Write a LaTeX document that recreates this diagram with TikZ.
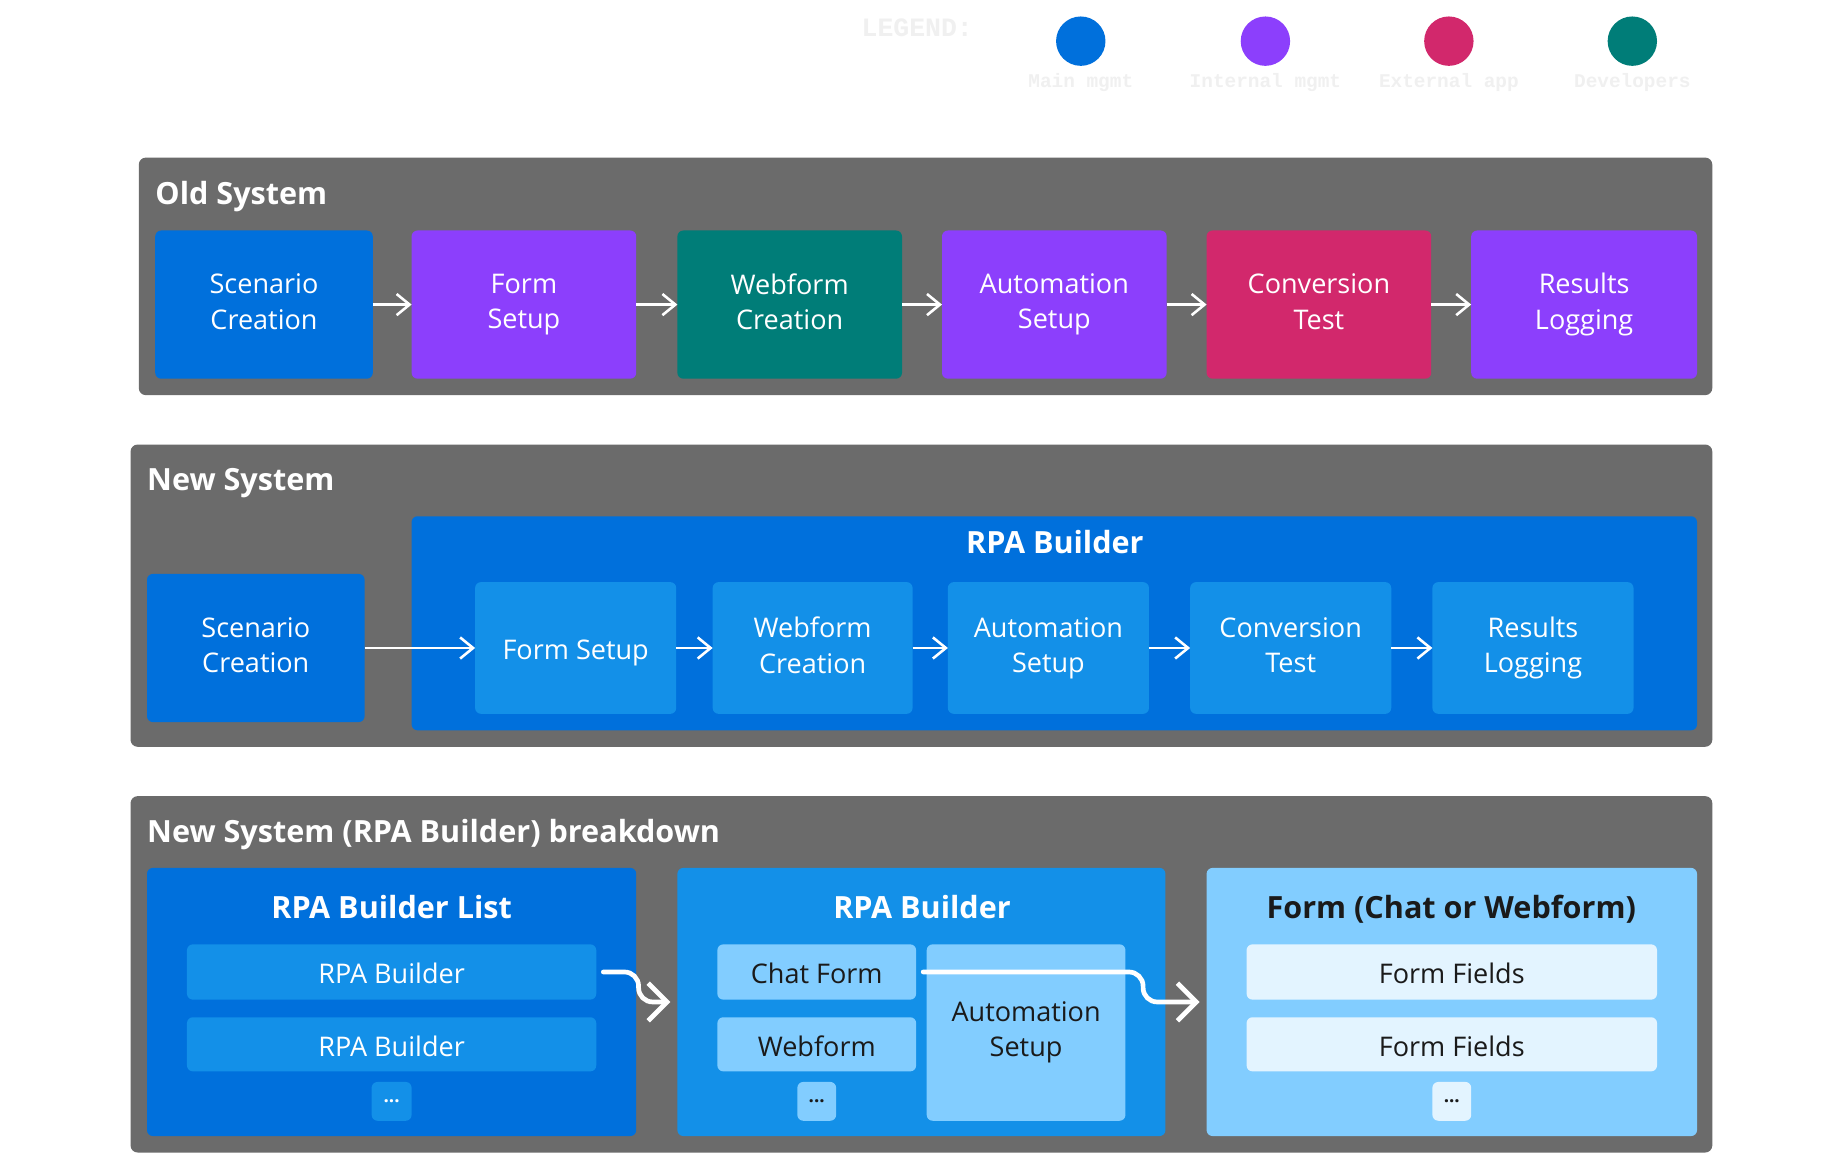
\documentclass[tikz,border=0pt]{standalone}
\usepackage{fontspec}
\setmainfont{Open Sans}
\newfontfamily\legendfont{Liberation Mono}
\usetikzlibrary{arrows.meta,calc}
\definecolor{panelgray}{HTML}{6B6B6B}
\definecolor{cblue}{HTML}{0070DC}
\definecolor{cpurple}{HTML}{8C3FFC}
\definecolor{cteal}{HTML}{007D78}
\definecolor{cmagenta}{HTML}{D2286C}
\definecolor{clight}{HTML}{1390E8}
\definecolor{clighter}{HTML}{82CDFF}
\definecolor{clightest}{HTML}{E3F4FF}
\definecolor{cdark}{HTML}{1A1A1A}
\definecolor{clegend}{HTML}{F0F0F0}
\newcommand\bxstrut{\rule[-5pt]{0pt}{30pt}}
\newcommand\twostrut{\rule[-1pt]{0pt}{30pt}}
\newcommand\rbox[7]{\node[#2, minimum width={(#5)-(#3)}, minimum height={(#6)-(#4)}] (#1) at ({((#3)+(#5))/2},{((#4)+(#6))/2}) {#7};}
\tikzset{
  panel/.style={fill=panelgray, rounded corners=6pt, inner sep=0pt, outer sep=0pt},
  box/.style={rounded corners=5pt, inner sep=0pt, outer sep=0pt, align=center, text=white, font=\fontsize{23}{30}\selectfont, execute at begin node=\bxstrut, execute at end node=\bxstrut},
  twoline/.style={execute at begin node=\twostrut, execute at end node=\twostrut},
  darkbox/.style={box, text=cdark},
  dots/.style={rounded corners=5pt, inner sep=0pt, outer sep=0pt, text=white, font=\bfseries\fontsize{16}{18}\selectfont},
  ptitle/.style={inner sep=0pt, anchor=base west, text=white, font=\bfseries\fontsize{26}{32}\selectfont},
  ctitle/.style={inner sep=0pt, anchor=base, text=white, font=\bfseries\fontsize{26}{32}\selectfont},
  thinarrow/.style={draw=white, line width=2.2pt, -{Straight Barb[length=11pt, width=18pt, line width=2.2pt]}},
  thickarrow/.style={draw=white, line width=4pt, line cap=round, rounded corners=12pt, -{Straight Barb[length=16pt, width=32pt, line width=4pt]}},
  legdot/.style={circle, minimum size=42pt, inner sep=0pt},
  leglabel/.style={inner sep=0pt, text=clegend, font=\legendfont\bfseries\fontsize{16.5}{18}\selectfont},
}
\begin{document}
\begin{tikzpicture}[x=1pt,y=-1pt]
\useasboundingbox[fill=white] (0,0) rectangle (1568,981);

% Legend
\node[inner sep=0pt, text=clegend, font=\legendfont\bfseries\fontsize{22.5}{24}\selectfont] (leg) at (780,24) {LEGEND:};
\node[legdot, fill=cblue] (l1) at (919,35) {};
\node[legdot, fill=cpurple] (l2) at (1076,35) {};
\node[legdot, fill=cmagenta] (l3) at (1232,35) {};
\node[legdot, fill=cteal] (l4) at (1388,35) {};
\node[leglabel] (l1t) at (919,70) {Main mgmt};
\node[leglabel] (l2t) at (1076,70) {Internal mgmt};
\node[leglabel] (l3t) at (1232,70) {External app};
\node[leglabel] (l4t) at (1388,70) {Developers};

% Panel 1: Old System
\rbox{p1}{panel}{118}{134}{1456}{336}{}
\node[ptitle] (p1t) at (132,174) {Old System};
\rbox{o1}{box, twoline, fill=cblue}{132}{196}{317}{322}{Scenario\\Creation}
\rbox{o2}{box, twoline, fill=cpurple}{350}{196}{541}{322}{Form\\Setup}
\rbox{o3}{box, twoline, fill=cteal}{576}{196}{767}{322}{Webform\\Creation}
\rbox{o4}{box, twoline, fill=cpurple}{801}{196}{992}{322}{Automation\\Setup}
\rbox{o5}{box, twoline, fill=cmagenta}{1026}{196}{1217}{322}{Conversion\\Test}
\rbox{o6}{box, twoline, fill=cpurple}{1251}{196}{1443}{322}{Results\\Logging}
\draw[thinarrow] (o1) -- (o2);
\draw[thinarrow] (o2) -- (o3);
\draw[thinarrow] (o3) -- (o4);
\draw[thinarrow] (o4) -- (o5);
\draw[thinarrow] (o5) -- (o6);

% Panel 2: New System
\rbox{p2}{panel}{111}{378}{1456}{635}{}
\node[ptitle] (p2t) at (125,417) {New System};
\rbox{n0}{box, twoline, fill=cblue}{125}{488}{310}{614}{Scenario\\Creation}
\rbox{rpa}{box, fill=cblue}{350}{439}{1443}{621}{}
\node[ctitle] (rpat) at (897,471) {RPA Builder};
\rbox{n1}{box, fill=clight}{404}{495}{575}{607}{Form Setup}
\rbox{n2}{box, twoline, fill=clight}{606}{495}{776}{607}{Webform\\Creation}
\rbox{n3}{box, twoline, fill=clight}{806}{495}{977}{607}{Automation\\Setup}
\rbox{n4}{box, twoline, fill=clight}{1012}{495}{1183}{607}{Conversion\\Test}
\rbox{n5}{box, twoline, fill=clight}{1218}{495}{1389}{607}{Results\\Logging}
\draw[thinarrow] (n0.east |- n1) -- (n1);
\draw[thinarrow] (n1) -- (n2);
\draw[thinarrow] (n2) -- (n3);
\draw[thinarrow] (n3) -- (n4);
\draw[thinarrow] (n4) -- (n5);

% Panel 3: breakdown
\rbox{p3}{panel}{111}{677}{1456}{980}{}
\node[ptitle] (p3t) at (125,716) {New System (RPA Builder) breakdown};
\rbox{ca}{box, fill=cblue}{125}{738}{541}{966}{}
\node[ctitle] (cat) at (333,781) {RPA Builder List};
\rbox{a1}{box, fill=clight}{159}{803}{507}{850}{RPA Builder}
\rbox{a2}{box, fill=clight}{159}{865}{507}{911}{RPA Builder}
\rbox{a3}{dots, fill=clight}{316}{920}{350}{953}{...}

\rbox{cb}{box, fill=clight}{576}{738}{991}{966}{}
\node[ctitle] (cbt) at (784,781) {RPA Builder};
\rbox{b1}{darkbox, fill=clighter}{610}{803}{779}{850}{Chat Form}
\rbox{b2}{darkbox, fill=clighter}{610}{865}{779}{911}{Webform}
\rbox{b3}{dots, text=cdark, fill=clighter}{678}{920}{711}{953}{...}
\rbox{b4}{darkbox, twoline, fill=clighter}{788}{803}{957}{953}{Automation\\Setup}

\rbox{cc}{box, fill=clighter}{1026}{738}{1443}{966}{}
\node[ctitle, text=cdark] (cct) at (1234,781) {Form (Chat or Webform)};
\rbox{c1}{darkbox, fill=clightest}{1060}{803}{1409}{850}{Form Fields}
\rbox{c2}{darkbox, fill=clightest}{1060}{865}{1409}{911}{Form Fields}
\rbox{c3}{dots, text=cdark, fill=clightest}{1218}{920}{1251}{953}{...}

\draw[thickarrow] ($(a1.east)+(6,0)$) -| (543,852) -- ($(cb.west)+(-6,0)$);
\draw[thickarrow] ($(b1.east)+(6,0)$) -| (972,852) -- ($(cc.west)+(-6,0)$);
\end{tikzpicture}
\end{document}
